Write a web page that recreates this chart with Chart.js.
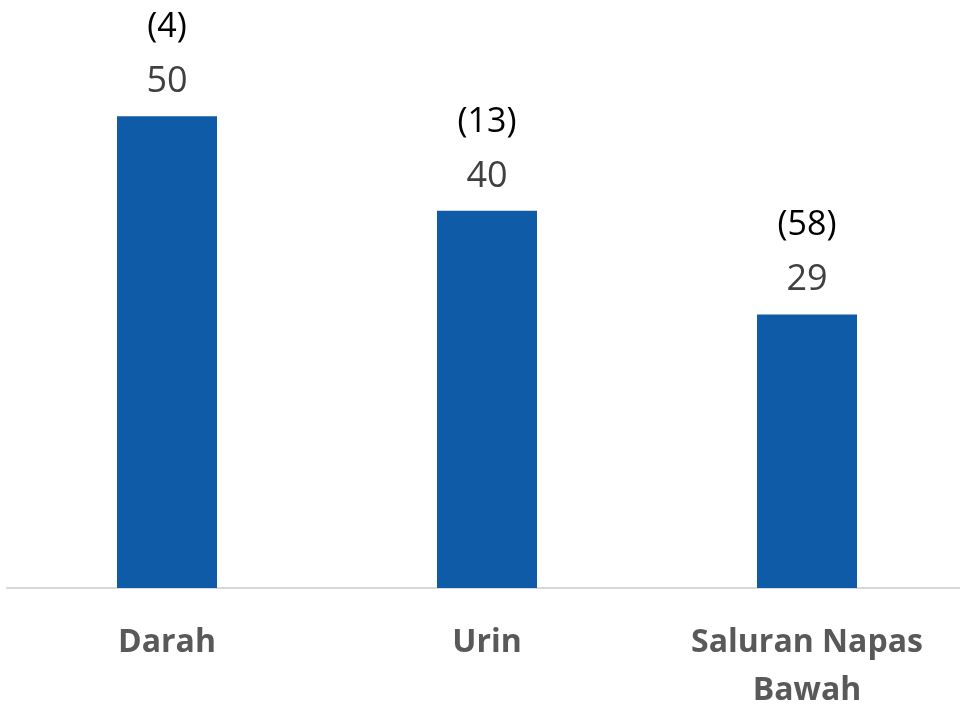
<!DOCTYPE html>
<html>
<head>
<meta charset="utf-8">
<script src="https://cdn.jsdelivr.net/npm/chart.js@4"></script>
<style>
  html, body { margin: 0; padding: 0; background: #fff; overflow: hidden; }
  #wrap { position: relative; width: 967px; height: 704px; }
</style>
</head>
<body>
<div id="wrap"><canvas id="barChart"></canvas></div>
<script>
const categories = ['Darah', 'Urin', ['Saluran Napas', 'Bawah']];
const values = [50, 40, 29];
const counts = [4, 13, 58];

// labels above each bar: value and (n)
const barLabels = {
    id: 'barLabels',
    afterDatasetsDraw(chart) {
        const ctx = chart.ctx;
        const meta = chart.getDatasetMeta(0);
        ctx.save();
        ctx.textAlign = 'center';
        ctx.textBaseline = 'alphabetic';
        meta.data.forEach((bar, i) => {
            ctx.fillStyle = '#404040';
            ctx.font = '36px "Open Sans"';
            ctx.fillText(values[i], bar.x, bar.y - 24);
            ctx.fillStyle = '#000000';
            ctx.font = '34px "Open Sans"';
            ctx.fillText('(' + counts[i] + ')', bar.x, bar.y - 79);
        });
        ctx.restore();
    }
};

const ctx = document.getElementById('barChart').getContext('2d');
new Chart(ctx, {
    type: 'bar',
    data: {
        labels: categories,
        datasets: [{
            data: values,
            backgroundColor: '#0F5BA8',
            categoryPercentage: 1,
            barPercentage: 0.3125
        }]
    },
    options: {
        responsive: true,
        maintainAspectRatio: false,
        animation: false,
        layout: { padding: { left: 7, right: 0, top: 22, bottom: 0 } },
        plugins: { legend: { display: false }, tooltip: { enabled: false } },
        scales: {
            x: {
                grid: { display: false, drawTicks: false },
                border: { color: '#D9D9D9', width: 2 },
                afterFit: (scale) => { scale.height = 116; },
                ticks: {
                    color: '#595959',
                    padding: 31,
                    maxRotation: 0,
                    autoSkip: false,
                    font: { family: 'Open Sans', size: 32, weight: 'bold', lineHeight: 1.5 }
                }
            },
            y: {
                display: false,
                min: 0,
                max: 60
            }
        }
    },
    plugins: [barLabels]
});
</script>
</body>
</html>
